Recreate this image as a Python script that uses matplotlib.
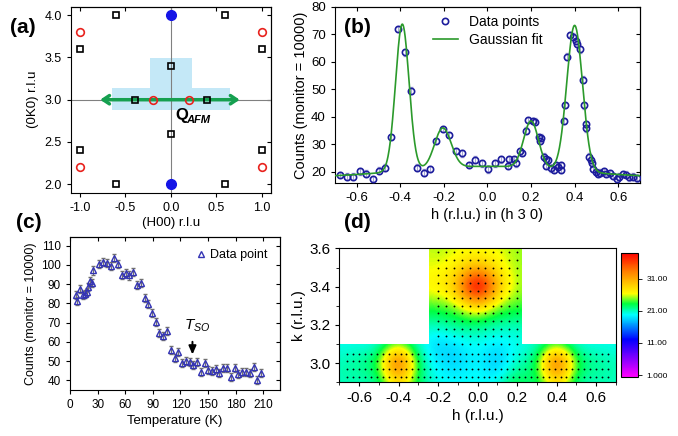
import numpy as np
import matplotlib
matplotlib.use("Agg")
import matplotlib.pyplot as plt
from matplotlib.colors import LinearSegmentedColormap, Normalize
from matplotlib.patches import Polygon
from matplotlib.ticker import AutoMinorLocator

plt.rcParams['font.family'] = ['Liberation Sans', 'DejaVu Sans']
plt.rcParams['axes.unicode_minus'] = False
plt.rcParams['mathtext.fontset'] = 'custom'
plt.rcParams['mathtext.it'] = 'Liberation Sans:italic'
plt.rcParams['mathtext.rm'] = 'Liberation Sans'

# (a) reciprocal lattice positions
sq_h = [-0.6, 0.6, -1.0, 1.0, 0.0, -0.4, 0.4, 0.0, -1.0, 1.0, -0.6, 0.6]
sq_k = [4.0, 4.0, 3.6, 3.6, 3.4, 3.0, 3.0, 2.6, 2.4, 2.4, 2.0, 2.0]
ring_h = [-1.0, 1.0, -0.2, 0.2, -1.0, 1.0]
ring_k = [3.8, 3.8, 3.0, 3.0, 2.2, 2.2]
nuc_h = [0.0, 0.0]
nuc_k = [4.0, 2.0]

# (b) h-scan along (h 3 0)
scan_h = [-0.676, -0.645, -0.615, -0.585, -0.558, -0.527, -0.497, -0.468, -0.441, -0.411,
          -0.38, -0.353, -0.323, -0.293, -0.264, -0.237, -0.206, -0.176, -0.145, -0.115,
          -0.085, -0.058, -0.027, 0.003, 0.033, 0.062, 0.092, 0.101, 0.123, 0.13,
          0.15, 0.157, 0.177, 0.188, 0.21, 0.22, 0.238, 0.245, 0.242, 0.26,
          0.268, 0.27, 0.279, 0.29, 0.306, 0.316, 0.324, 0.336, 0.339, 0.351,
          0.357, 0.365, 0.38, 0.392, 0.405, 0.41, 0.423, 0.438, 0.442, 0.45,
          0.453, 0.468, 0.476, 0.48, 0.483, 0.498, 0.506, 0.518, 0.536, 0.544,
          0.56, 0.574, 0.594, 0.605, 0.624, 0.635, 0.65, 0.67, 0.688]
scan_counts = [18.8, 18.2, 18.2, 20.1, 19.3, 17.4, 20.4, 21.5, 32.7, 71.9,
               63.4, 49.5, 21.5, 19.7, 21.0, 31.2, 35.6, 33.4, 27.6, 26.7,
               22.5, 24.4, 23.1, 20.9, 23.1, 24.5, 22.2, 24.5, 24.6, 23.1,
               27.4, 26.8, 34.9, 38.8, 38.4, 38.2, 32.7, 32.4, 31.2, 25.5,
               24.5, 22.1, 24.3, 21.2, 20.6, 22.4, 21.8, 22.4, 20.6, 38.4,
               44.2, 61.8, 69.7, 69.1, 67.6, 66.4, 64.5, 53.5, 44.1, 37.2,
               35.8, 25.5, 24.3, 23.1, 21.0, 19.9, 19.2, 19.7, 20.1, 19.2,
               19.4, 18.4, 17.2, 18.2, 19.2, 18.9, 18.0, 18.2, 17.6]
scan_err = 1.2

# Gaussian fit parameters: background and peaks (center, amplitude, sigma)
fit_bg = (17.8, 4.2, 0.38)
fit_peaks = [(-0.391, 53.4, 0.031), (-0.205, 14.5, 0.038),
             (0.200, 17.0, 0.034), (0.400, 53.0, 0.036)]

# (c) temperature dependence
temp = [6.2, 7.9, 10.9, 13.8, 16.3, 18.2, 19.9, 21.7, 23.6, 25.3,
        31.8, 35.5, 39.9, 44.2, 47.8, 52.2, 56.2, 60.5, 64.4, 68.8,
        72.5, 76.9, 81.2, 85.1, 89.5, 93.5, 97.1, 101.4, 105.5, 109.8,
        113.6, 117.7, 121.7, 125.8, 130.1, 134.0, 138.0, 142.4, 146.4, 150.3,
        154.4, 158.4, 162.3, 166.6, 170.7, 174.7, 179.0, 182.9, 187.0, 191.3,
        195.3, 199.3, 203.3, 207.3]
temp_counts = [84.4, 81.4, 87.5, 84.4, 84.9, 86.1, 88.4, 91.4, 90.5, 97.1,
               100.4, 101.5, 101.0, 99.6, 103.4, 100.6, 94.8, 95.7, 94.5, 96.1,
               89.6, 90.8, 82.7, 79.7, 75.2, 70.5, 64.7, 63.0, 65.5, 55.8,
               51.8, 54.8, 49.0, 50.0, 49.5, 47.8, 49.5, 44.3, 49.0, 45.5,
               44.8, 46.0, 43.8, 46.6, 46.6, 41.7, 46.6, 43.1, 44.3, 44.3,
               43.8, 46.9, 40.4, 43.8]
temp_err = 2.1

# (d) intensity map, rows k = 2.9 ... 3.6, columns h = -0.7 ... 0.7
map_h = [-0.7, -0.6, -0.5, -0.4, -0.3, -0.2, -0.1, 0.0, 0.1, 0.2, 0.3, 0.4, 0.5, 0.6, 0.7]
map_k = [2.9, 3.0, 3.1, 3.2, 3.3, 3.4, 3.5, 3.6]
map_I = [
    [21, 21, 21, 29, 22, 20, 20, 20, 20, 24, 21, 29, 21, 21, 21],
    [21, 22, 23, 40, 22, 19, 18, 20, 17, 21, 22, 40, 23, 22, 21],
    [20, 20, 20, 25, 20, 18, 19, 20, 19, 20, 20, 24, 20, 20, 20],
    [20, 20, 20, 20, 21, 21, 22, 22, 21, 21, 21, 20, 20, 20, 20],
    [24, 24, 24, 24, 24, 24, 25, 29, 25, 24, 24, 24, 24, 24, 24],
    [26, 26, 26, 26, 27, 27, 30, 46, 30, 25, 25, 26, 26, 26, 26],
    [26, 26, 26, 26, 26, 26, 27, 30, 27, 25, 25, 26, 26, 26, 26],
    [26, 26, 26, 26, 26, 25, 26, 26, 26, 25, 25, 26, 26, 26, 26],
]
grid_h_low = [-0.66, -0.63, -0.6, -0.57, -0.54, -0.51, -0.48, -0.45, -0.42, -0.39,
              -0.36, -0.33, -0.3, -0.27, -0.24, -0.21, -0.18, -0.15, -0.12, -0.09,
              -0.06, -0.03, 0.0, 0.03, 0.06, 0.09, 0.12, 0.15, 0.18, 0.21,
              0.24, 0.27, 0.3, 0.33, 0.36, 0.39, 0.42, 0.45, 0.48, 0.51,
              0.54, 0.57, 0.6, 0.63, 0.66]
grid_k_low = [2.93, 2.97, 3.01, 3.05]
grid_h_up = [-0.2, -0.16, -0.12, -0.08, -0.04, 0.0, 0.04, 0.08, 0.12, 0.16, 0.2]
grid_k_up = [3.10, 3.14, 3.18, 3.22, 3.26, 3.30, 3.34, 3.38, 3.42, 3.46, 3.50, 3.54, 3.58]


def mirror_ticks(ax):
    top = ax.secondary_xaxis('top')
    top.set_xticks(ax.get_xticks())
    top.tick_params(direction='in', length=3, labeltop=False, labelbottom=False)
    right = ax.secondary_yaxis('right')
    right.set_yticks(ax.get_yticks())
    right.tick_params(direction='in', length=3, labelright=False, labelleft=False)


fig = plt.figure(figsize=(6.78, 4.36), dpi=100)

# ---------- (a)
ax = fig.add_axes([0.1047, 0.558, 0.2945, 0.4266])
ax.add_patch(Polygon([(-0.652, 2.88), (0.656, 2.88), (0.656, 3.137), (0.231, 3.137),
                      (0.231, 3.497), (-0.232, 3.497), (-0.232, 3.137), (-0.652, 3.137)],
                     closed=True, facecolor='#c4e8f7', edgecolor='none', zorder=1))
ax.axvline(0, color='#808080', lw=0.8, zorder=2)
ax.axhline(3.0, color='#808080', lw=0.8, zorder=2)
ax.annotate('', xy=(0.79, 3.0), xytext=(-0.81, 3.0),
            arrowprops=dict(arrowstyle='<->,head_length=0.45,head_width=0.3',
                            color='#16a050', lw=2.5), zorder=3)
ax.plot(sq_h, sq_k, 's', ms=5, mfc='none', mec='black', mew=1.2, ls='none', zorder=4)
ax.plot(ring_h, ring_k, 'o', ms=5.5, mfc='none', mec='#e8221d', mew=1.2, ls='none', zorder=4)
ax.plot(nuc_h, nuc_k, 'o', ms=7, color='#1414e6', ls='none', zorder=4)
ax.text(0.05, 2.76, 'Q', fontsize=12, fontweight='bold')
ax.text(0.175, 2.725, 'AFM', fontsize=8, fontweight='bold', style='italic')
ax.set_xlim(-1.1, 1.1)
ax.set_ylim(1.9, 4.1)
ax.set_xticks([-1.0, -0.5, 0.0, 0.5, 1.0])
ax.set_xticklabels(['-1.0', '-0.5', '0.0', '0.5', '1.0'])
ax.set_yticks([2.0, 2.5, 3.0, 3.5, 4.0])
ax.set_yticklabels(['2.0', '2.5', '3.0', '3.5', '4.0'])
ax.tick_params(direction='out', length=3, labelsize=9)
mirror_ticks(ax)
ax.set_xlabel('(H00) r.l.u', fontsize=9.5, labelpad=2)
ax.set_ylabel('(0K0) r.l.u', fontsize=9.5, labelpad=4)

# ---------- (b)
ax = fig.add_axes([0.494, 0.5796, 0.45, 0.405])
ax.errorbar(scan_h, scan_counts, yerr=scan_err, fmt='none', ecolor='#a8a8d8',
            elinewidth=0.8, capsize=1.5, zorder=2)
ax.plot(scan_h, scan_counts, 'o', ms=4.5, mfc='none', mec='#1c1c9c', mew=1.2,
        ls='none', label='Data points', zorder=3)
hh = np.linspace(-0.7, 0.7, 800)
fit = fit_bg[0] + fit_bg[1] * np.exp(-hh ** 2 / (2 * fit_bg[2] ** 2))
for c, a, s in fit_peaks:
    fit = fit + a * np.exp(-(hh - c) ** 2 / (2 * s ** 2))
ax.plot(hh, fit, color='#2b9a2b', lw=1.2, label='Gaussian fit', zorder=4)
ax.set_xlim(-0.7, 0.7)
ax.set_ylim(15.8, 80)
ax.set_xticks([-0.6, -0.4, -0.2, 0.0, 0.2, 0.4, 0.6])
ax.set_xticklabels(['-0.6', '-0.4', '-0.2', '0.0', '0.2', '0.4', '0.6'])
ax.set_yticks([20, 30, 40, 50, 60, 70, 80])
ax.tick_params(direction='out', length=3, labelsize=9.5)
mirror_ticks(ax)
ax.set_xlabel('h (r.l.u.) in (h 3 0)', fontsize=10.5, labelpad=3)
ax.set_ylabel('Counts (monitor = 10000)', fontsize=10.5, labelpad=2)
ax.legend(loc='upper center', bbox_to_anchor=(0.5, 1.0), frameon=False,
          fontsize=10, handlelength=1.8, labelspacing=0.3, borderaxespad=0.2)

# ---------- (c)
ax = fig.add_axes([0.1032, 0.1055, 0.3097, 0.351])
ax.errorbar(temp, temp_counts, yerr=temp_err, fmt='none', ecolor='#707070',
            elinewidth=0.8, capsize=1.5, zorder=2)
ax.plot(temp, temp_counts, '^', ms=3.8, mfc='none', mec='#3434b4', mew=1.0,
        ls='none', label='Data point', zorder=3)
ax.annotate('', xy=(133, 52.0), xytext=(133, 61.5),
            arrowprops=dict(arrowstyle='-|>,head_length=0.5,head_width=0.22',
                            color='black', lw=1.4))
ax.text(138, 68.5, r'$T_{SO}$', fontsize=11, ha='center', va='center')
ax.set_xlim(0, 228)
ax.set_ylim(35, 114.5)
ax.set_xticks([0, 30, 60, 90, 120, 150, 180, 210])
ax.set_yticks([40, 50, 60, 70, 80, 90, 100, 110])
ax.tick_params(direction='out', length=3, labelsize=8.5)
mirror_ticks(ax)
ax.set_xlabel('Temperature (K)', fontsize=9.5, labelpad=3)
ax.set_ylabel('Counts (monitor = 10000)', fontsize=9, labelpad=3)
ax.legend(loc='upper right', frameon=False, fontsize=9, handlelength=0.8,
          handletextpad=0.3, borderaxespad=0.6)

# ---------- (d)
ax = fig.add_axes([0.5004, 0.1232, 0.408, 0.307])
cmap = LinearSegmentedColormap.from_list(
    'origin_rainbow',
    [(0.0, '#ff00ff'), (0.15, '#8000ff'), (0.3, '#0000ff'), (0.5, '#00ffff'),
     (0.59, '#00ff40'), (0.67, '#ffff00'), (0.85, '#ff8000'), (1.0, '#ff0000')])
norm = Normalize(vmin=0.5, vmax=39)
dh = map_h[1] - map_h[0]
dk = map_k[1] - map_k[0]
im = ax.imshow(np.array(map_I, dtype=float), origin='lower', cmap=cmap, norm=norm,
               interpolation='bicubic', aspect='auto',
               extent=(map_h[0] - dh / 2, map_h[-1] + dh / 2,
                       map_k[0] - dk / 2, map_k[-1] + dk / 2))
tshape = Polygon([(-0.7, 2.9), (0.7, 2.9), (0.7, 3.1), (0.225, 3.1), (0.225, 3.6),
                  (-0.248, 3.6), (-0.248, 3.1), (-0.7, 3.1)],
                 closed=True, transform=ax.transData, facecolor='none', edgecolor='none')
ax.add_patch(tshape)
im.set_clip_path(tshape)
gl_h, gl_k = np.meshgrid(grid_h_low, grid_k_low)
gu_h, gu_k = np.meshgrid(grid_h_up, grid_k_up)
ax.scatter(gl_h.ravel(), gl_k.ravel(), s=1.8, color='black', lw=0, zorder=3)
ax.scatter(gu_h.ravel(), gu_k.ravel(), s=1.8, color='black', lw=0, zorder=3)
ax.set_xlim(-0.7, 0.7)
ax.set_ylim(2.9, 3.6)
ax.set_xticks([-0.6, -0.4, -0.2, 0.0, 0.2, 0.4, 0.6])
ax.set_xticklabels(['-0.6', '-0.4', '-0.2', '0.0', '0.2', '0.4', '0.6'])
ax.set_yticks([3.0, 3.2, 3.4, 3.6])
ax.set_yticklabels(['3.0', '3.2', '3.4', '3.6'])
ax.xaxis.set_minor_locator(AutoMinorLocator(2))
ax.yaxis.set_minor_locator(AutoMinorLocator(2))
ax.tick_params(which='both', direction='out', labelsize=11)
ax.tick_params(which='major', length=3)
ax.tick_params(which='minor', length=2)
ax.set_xlabel('h (r.l.u.)', fontsize=11, labelpad=3)
ax.set_ylabel('k (r.l.u.)', fontsize=11, labelpad=2)

cax = fig.add_axes([0.9155, 0.136, 0.025, 0.284])
cb = fig.colorbar(im, cax=cax, ticks=[1, 11, 21, 31])
cb.ax.set_yticklabels(['1.000', '11.00', '21.00', '31.00'])
cb.ax.tick_params(labelsize=6, length=3, width=0.6)
cb.outline.set_linewidth(0.8)

# panel letters
for lab, x, y in [('(a)', 0.034, 0.938), ('(b)', 0.527, 0.938),
                  ('(c)', 0.043, 0.489), ('(d)', 0.527, 0.49)]:
    fig.text(x, y, lab, fontsize=15, fontweight='bold', ha='center', va='center')

fig.savefig('out.png', dpi=100)
